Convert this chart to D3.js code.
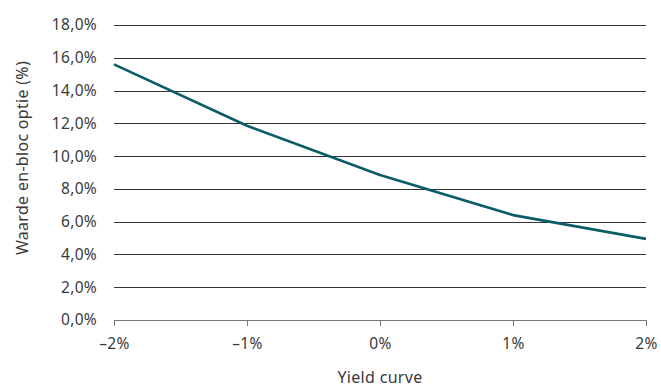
<!DOCTYPE html>
<html><head><meta charset="utf-8">
<script src="https://cdn.jsdelivr.net/npm/d3@7"></script>
<style>body{margin:0;background:#fff}svg text{font-family:"Noto Sans",sans-serif;fill:#3a3a3a}</style>
</head><body><svg id="c" width="661" height="387"></svg>
<script>
const xValues = [-2, -1, 0, 1, 2];
const yValues = [15.6, 11.85, 8.85, 6.4, 4.95];
const yTicks = [0, 2, 4, 6, 8, 10, 12, 14, 16, 18];
const xTicks = [-2, -1, 0, 1, 2];
const yTitle = "Waarde en-bloc optie (%)";
const xTitle = "Yield curve";

const svg = d3.select("#c");
const L = 114, R = 646, T = 25, B = 320;
const x = d3.scaleLinear().domain([-2, 2]).range([L, R]);
const y = d3.scaleLinear().domain([0, 18]).range([B, T]);

const fmtY = d => d.toFixed(1).replace(".", ",") + "%";
const fmtX = d => (d < 0 ? "\u2013" + Math.abs(d) : d) + "%";

// gridlines
const gy = svg.append("g").attr("transform", `translate(${L},0)`)
  .call(d3.axisLeft(y).tickValues(yTicks).tickSize(-(R - L)).tickFormat(fmtY).tickPadding(17));
gy.select(".domain").remove();
gy.selectAll(".tick line").attr("stroke", "#333").attr("stroke-width", 1).attr("shape-rendering","crispEdges");
gy.selectAll(".tick text").attr("font-size", 15.5).attr("fill", "#3a3a3a").style("letter-spacing","0.3px");

// x axis
const gx = svg.append("g").attr("transform", `translate(0,${B})`)
  .call(d3.axisBottom(x).tickValues(xTicks).tickSize(6).tickSizeOuter(0).tickFormat(fmtX).tickPadding(12));
gx.select(".domain").attr("stroke", "#777").attr("d", `M${L},0H${R}`).attr("shape-rendering","crispEdges");
gx.selectAll(".tick line").attr("stroke", "#777").attr("shape-rendering","crispEdges");
gx.selectAll(".tick text").attr("font-size", 15.5).attr("fill", "#3a3a3a").style("letter-spacing","0.3px");

// line
const line = d3.line().x((d, i) => x(xValues[i])).y(d => y(d));
svg.append("path").datum(yValues).attr("d", line)
  .attr("fill", "none").attr("stroke", "#0b5c68").attr("stroke-width", 2.6).attr("stroke-linejoin","round");

// titles
svg.append("text").attr("x", 380).attr("y", 383).attr("text-anchor", "middle")
  .attr("font-size", 16).style("letter-spacing","0.3px").text(xTitle);
svg.append("text").attr("transform", "translate(28,158) rotate(-90)").attr("text-anchor", "middle")
  .attr("font-size", 16).style("letter-spacing","0.3px").text(yTitle);
</script></body></html>
